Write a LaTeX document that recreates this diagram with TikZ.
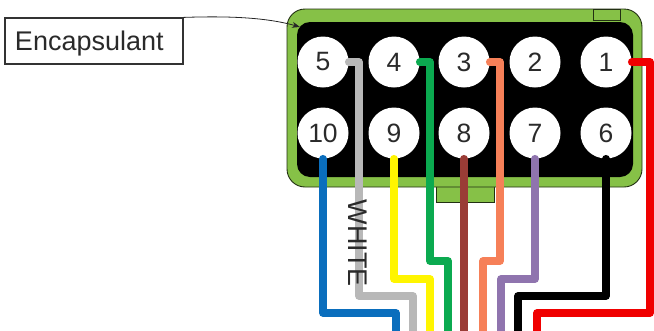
\documentclass[tikz,border=0pt]{standalone}
\usepackage{fontspec}
\setmainfont{Liberation Sans}
\usetikzlibrary{arrows.meta}
\definecolor{shell}{HTML}{86C147}
\definecolor{txt}{HTML}{2A2A2A}
\definecolor{wblue}{HTML}{0A6EBD}
\definecolor{wgrey}{HTML}{B8B8B8}
\definecolor{wyellow}{HTML}{FFF500}
\definecolor{wgreen}{HTML}{0BAA50}
\definecolor{wbrown}{HTML}{9A3C36}
\definecolor{worange}{HTML}{F68058}
\definecolor{wpurple}{HTML}{8F74AE}
\definecolor{wred}{HTML}{F00000}
\tikzset{
  pinhole/.style={circle,fill=white,minimum size=51pt,inner sep=0pt,text=txt,font=\fontsize{26.5}{28}\selectfont},
  wire/.style={line width=7.5pt,line join=round,line cap=round},
  shellpart/.style={draw=black!75!shell,fill=shell,line width=0.9pt},
  lab/.style={text=txt,font=\fontsize{27}{29}\selectfont}
}
\begin{document}
\begin{tikzpicture}[x=1pt,y=-1pt]
\useasboundingbox (0,0) rectangle (654,330);
% connector body
\draw[shellpart] (436,180) rectangle (494,202);
\draw[shellpart,rounded corners=18pt] (287,9) rectangle (642,187);
\draw[shellpart] (593,9) rectangle (620,20);
\fill[black,rounded corners=13pt] (297,22) rectangle (633,177);
% pins
\node[pinhole] (p5) at (323,62) {5};
\node[pinhole] (p4) at (394,62) {4};
\node[pinhole] (p3) at (464,62) {3};
\node[pinhole] (p2) at (535,62) {2};
\node[pinhole] (p1) at (606,62) {1};
\node[pinhole] (p10) at (323,133) {10};
\node[pinhole] (p9) at (394,133) {9};
\node[pinhole] (p8) at (464,133) {8};
\node[pinhole] (p7) at (535,133) {7};
\node[pinhole] (p6) at (606,133) {6};
% free wire ends
\coordinate (e10) at (396,335);
\coordinate (e5) at (413,335);
\coordinate (e9) at (430,335);
\coordinate (e4) at (448,335);
\coordinate (e8) at (464,335);
\coordinate (e3) at (483,335);
\coordinate (e7) at (501,335);
\coordinate (e6) at (518,335);
\coordinate (e1) at (537,335);
% wires
\draw[wire,wblue] (p10.south) -- (323,313) -- (396,313) -- (e10);
\draw[wire,wyellow] (p9.south) -- (394,279) -- (430,279) -- (e9);
\draw[wire,wbrown] (p8.south) -- (e8);
\draw[wire,wpurple] (p7.south) -- (535,279) -- (501,279) -- (e7);
\draw[wire,black] (p6.south) -- (606,296) -- (518,296) -- (e6);
\draw[wire,wgrey] (p5.east) -- (359,62) -- (359,296) -- (413,296) -- (e5);
\draw[wire,wgreen] (p4.east) -- (430,62) -- (430,261) -- (448,261) -- (e4);
\draw[wire,worange] (p3.east) -- (500,62) -- (500,261) -- (483,261) -- (e3);
\draw[wire,wred] (p1.east) -- (650,62) -- (650,313) -- (537,313) -- (e1);
% labels
\node[lab,rotate=-90,inner sep=0pt] (white) at (358,243) {WHITE};
\node[draw=black!80,line width=1.2pt,lab,minimum width=178pt,minimum height=46pt,inner sep=0pt,text height=20pt,text depth=2pt,align=left,text width=158pt] (enc) at (94,41) {Encapsulant};
\coordinate (encarrow) at (300,27);
\draw[black!85,line width=0.8pt,-{Stealth[length=8pt,width=6pt]}] (enc.north east) .. controls (225,16) and (265,17) .. (encarrow);
\end{tikzpicture}
\end{document}
